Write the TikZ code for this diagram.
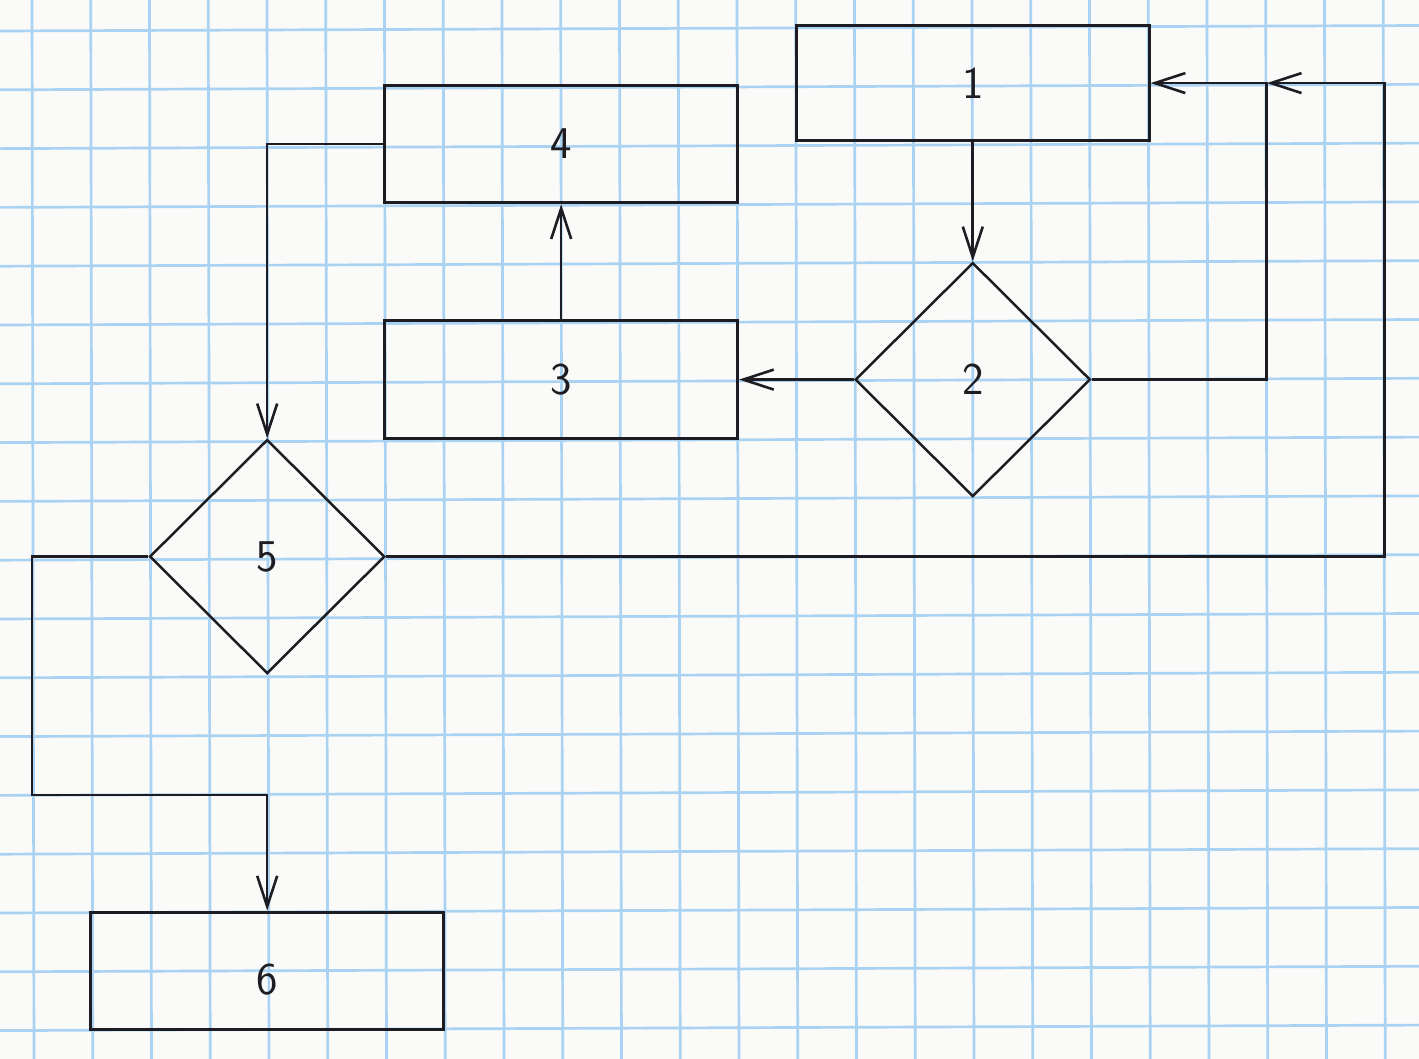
\documentclass[tikz,border=0pt]{standalone}
\usetikzlibrary{shapes.geometric,arrows.meta}
\definecolor{gridblue}{RGB}{170,210,242}
\definecolor{paper}{RGB}{250,250,248}
\definecolor{ink}{RGB}{28,28,34}
\begin{document}
\begin{tikzpicture}[x=1cm,y=-0.9966cm,
  box/.style={draw=ink,line width=1.4pt,rectangle,minimum width=6cm,minimum height=2cm,inner sep=0pt,
    font=\sffamily\fontsize{22}{26}\selectfont,text=ink},
  dia/.style={draw=ink,line width=1.2pt,diamond,minimum width=4cm,minimum height=3.98cm,inner sep=0pt,
    font=\sffamily\fontsize{22}{26}\selectfont,text=ink},
  conn/.style={draw=ink,line width=1.25pt},
  arr/.style={conn,-{Straight Barb[length=5.2mm,width=3.4mm]}},
  gridline/.style={gridblue,line width=1.3pt}]
\useasboundingbox (-0.5442,-0.4778) rectangle (23.589,17.594);
\fill[paper] (-0.5442,-0.4778) rectangle (23.589,17.594);
% grid (printed paper, slightly skewed in the scan)
\foreach \k in {0,...,23} \draw[gridline] ({58.75*\k/58.8},-0.4778) -- ({(2+58.75*\k)/58.8},17.594);
\foreach \k in {0,...,17} \draw[gridline] (-0.5442,{(3+58.8*\k)/58.6}) -- (23.589,{(-2.5+58.8*\k)/58.6});
% nodes
\node[box,minimum height=1.96cm] (b1) at (16,0.94) {1};
\node[box] (b4) at (9,1.98) {4};
\node[box] (b3) at (9,6) {3};
\node[dia] (d2) at (16,6) {2};
\node[dia] (d5) at (4,9.02) {5};
\node[box,text height=0.8cm,text depth=0cm] (b6) at (4,16.09) {6};
% bend points
\coordinate (J) at (21,0.94);
\coordinate (R) at (23,0.94);
\coordinate (L) at (0,13.09);
% connectors
\draw[arr] (b1.south) -- (d2.north);
\draw[arr] (d2.west) -- (b3.east);
\draw[arr] (b3.north) -- (b4.south);
\draw[arr] (d2.east) -| (J) -- (b1.east);
\draw[arr] (d5.east) -| (R) -- (J);
\draw[arr] (b4.west) -| (d5.north);
\draw[arr] (d5.west) -| (L) -| (b6.north);
\end{tikzpicture}
\end{document}
